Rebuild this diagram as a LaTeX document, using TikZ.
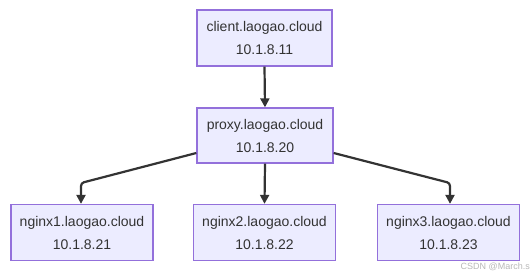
\documentclass[tikz,border=0pt]{standalone}
\usepackage{fontspec}
\setmainfont{Liberation Sans}
\usetikzlibrary{arrows.meta}
\definecolor{boxfill}{HTML}{ECECFF}
\definecolor{boxdraw}{HTML}{9370DB}
\definecolor{edgecol}{HTML}{333333}
\tikzset{
  hostbox/.style={draw=boxdraw, fill=boxfill, line width=1.3pt, minimum width=#1, minimum height=56pt, align=center, inner sep=0pt, font=\fontsize{14}{23}\selectfont, text=edgecol},
  hostbox/.default=142pt,
  link/.style={draw=edgecol, line width=2.2pt, -{Triangle[length=9pt,width=9pt]}}
}
\begin{document}
\begin{tikzpicture}[x=1pt,y=-1pt]
\useasboundingbox (0,0) rectangle (532,275);
\node[hostbox=135pt] (client) at (264.5,38) {client.laogao.cloud\\10.1.8.11};
\node[hostbox=136pt, minimum height=55pt] (proxy) at (265,135.5) {proxy.laogao.cloud\\10.1.8.20};
\node[hostbox] (n1) at (82,232.5) {nginx1.laogao.cloud\\10.1.8.21};
\node[hostbox] (n2) at (264.5,232.5) {nginx2.laogao.cloud\\10.1.8.22};
\node[hostbox] (n3) at (448.5,232.5) {nginx3.laogao.cloud\\10.1.8.23};
\coordinate (b1) at (81,183);
\coordinate (b3) at (450,183);
\draw[link] (client.south) -- (proxy.north);
\draw[link] (proxy.south) -- (n2.north);
\draw[link, rounded corners=3pt] (proxy.west |- 0,153) -- (b1) -- (b1 |- n1.north);
\draw[link, rounded corners=3pt] (proxy.east |- 0,153) -- (b3) -- (b3 |- n3.north);
\node[text=black!28, font=\fontsize{9}{9}\selectfont, anchor=east, inner sep=0pt] (wm) at (530,266.5) {CSDN @March.s};
\end{tikzpicture}
\end{document}
